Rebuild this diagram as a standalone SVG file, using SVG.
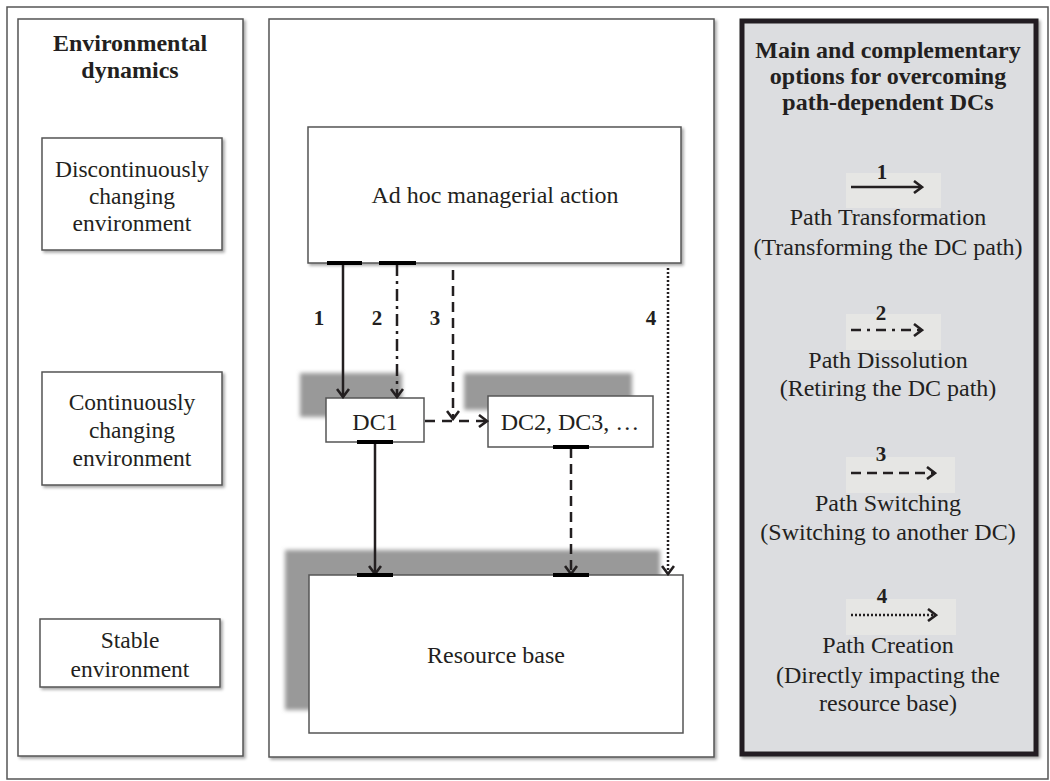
<svg xmlns="http://www.w3.org/2000/svg" width="1050" height="781" viewBox="0 0 1050 781">
<style>
.t{font-family:"Liberation Serif","Times New Roman",serif;font-size:24px;fill:#231f20;text-anchor:middle}
.e{font-family:"Liberation Serif","Times New Roman",serif;font-size:23.5px;fill:#231f20;text-anchor:middle}
.b{font-family:"Liberation Serif","Times New Roman",serif;font-size:24px;font-weight:bold;fill:#231f20;text-anchor:middle}
.n{font-family:"Liberation Serif","Times New Roman",serif;font-size:21px;font-weight:bold;fill:#231f20;text-anchor:middle}
.box{fill:#fff;stroke:#555;stroke-width:1.5}
.panel{fill:#fff;stroke:#555;stroke-width:1.5}
.ln{fill:none;stroke:#231f20;stroke-width:2.5}
.tab{stroke:#000;stroke-width:4}
.shadow{fill:#999}
.lbox{fill:#e6e6e4}
</style>
<defs>
<filter id="ds" x="-5%" y="-5%" width="115%" height="115%"><feDropShadow dx="2" dy="2" stdDeviation="1.5" flood-color="#000" flood-opacity="0.35"/></filter>
<filter id="blur" x="-10%" y="-10%" width="120%" height="120%"><feGaussianBlur stdDeviation="2"/></filter>
<marker id="ah" viewBox="0 0 12 14" refX="10" refY="7" markerWidth="12" markerHeight="14" markerUnits="userSpaceOnUse" orient="auto"><path d="M2,1 L10,7 L2,13" fill="none" stroke="#231f20" stroke-width="2.6"/></marker>
</defs>
<rect x="0" y="0" width="1050" height="781" fill="#fff"/>
<rect x="7" y="7" width="1041" height="772" fill="#fff" stroke="#555" stroke-width="1.5"/>

<g id="left-panel">
<rect class="panel" x="18" y="19" width="225" height="737" filter="url(#ds)"/>
<text class="b" x="130" y="51">Environmental</text>
<text class="b" x="130" y="78">dynamics</text>
</g>
<g id="env-discontinuous">
<rect class="box" x="42" y="138" width="180" height="112" filter="url(#ds)"/>
<text class="e" x="132" y="177">Discontinuously</text>
<text class="e" x="132" y="204">changing</text>
<text class="e" x="132" y="231">environment</text>
</g>
<g id="env-continuous">
<rect class="box" x="42" y="372" width="180" height="113" filter="url(#ds)"/>
<text class="e" x="132" y="410">Continuously</text>
<text class="e" x="132" y="438">changing</text>
<text class="e" x="132" y="466">environment</text>
</g>
<g id="env-stable">
<rect class="box" x="40" y="619" width="180" height="68" filter="url(#ds)"/>
<text class="e" x="130" y="648">Stable</text>
<text class="e" x="130" y="677">environment</text>
</g>

<g id="middle-panel">
<rect class="panel" x="269" y="19" width="445" height="738" filter="url(#ds)"/>
</g>
<g id="shadows">
<rect class="shadow" x="300" y="373" width="102" height="44" filter="url(#blur)"/>
<rect class="shadow" x="464" y="373" width="168" height="37" filter="url(#blur)"/>
<rect class="shadow" x="285" y="550" width="375" height="160" filter="url(#blur)"/>
</g>
<g id="adhoc">
<rect class="box" x="308" y="127" width="373" height="136" filter="url(#ds)"/>
<text class="t" x="495" y="203">Ad hoc managerial action</text>
</g>
<g id="dc1">
<rect class="box" x="326" y="398" width="98" height="44"/>
<text class="t" x="375" y="430">DC1</text>
</g>
<g id="dc2">
<rect class="box" x="488" y="396" width="165" height="51"/>
<text class="t" x="570" y="430">DC2, DC3, …</text>
</g>
<g id="resource">
<rect class="box" x="309" y="575" width="374" height="158"/>
<text class="t" x="496" y="663">Resource base</text>
</g>

<g id="connectors">
<line class="ln" x1="343" y1="264" x2="343" y2="397" marker-end="url(#ah)"/>
<line class="ln" x1="397" y1="264" x2="397" y2="397" stroke-dasharray="12 5 3 5" marker-end="url(#ah)"/>
<line class="ln" x1="453" y1="270" x2="453" y2="419" stroke-dasharray="10 6" marker-end="url(#ah)"/>
<line class="ln" x1="425" y1="421" x2="487" y2="421" stroke-dasharray="10 7" marker-end="url(#ah)"/>
<line class="ln" x1="668" y1="268" x2="668" y2="574" stroke-dasharray="2 2" marker-end="url(#ah)"/>
<line class="ln" x1="375" y1="443" x2="375" y2="574" marker-end="url(#ah)"/>
<line class="ln" x1="571" y1="448" x2="571" y2="574" stroke-dasharray="10 6" marker-end="url(#ah)"/>
<line class="tab" x1="327" y1="263" x2="362" y2="263"/>
<line class="tab" x1="379" y1="263" x2="416" y2="263"/>
<line class="tab" x1="357" y1="442" x2="393" y2="442"/>
<line class="tab" x1="553" y1="447" x2="589" y2="447"/>
<line class="tab" x1="357" y1="575" x2="393" y2="575"/>
<line class="tab" x1="553" y1="575" x2="589" y2="575"/>
<text class="n" x="319" y="325">1</text>
<text class="n" x="377" y="325">2</text>
<text class="n" x="435" y="325">3</text>
<text class="n" x="651" y="325">4</text>
</g>

<g id="legend-panel">
<rect x="742" y="21" width="294" height="733" fill="#dcdde0" stroke="#231f20" stroke-width="5" filter="url(#ds)"/>
<text class="b" x="888" y="58">Main and complementary</text>
<text class="b" x="888" y="84">options for overcoming</text>
<text class="b" x="888" y="110">path-dependent DCs</text>
</g>
<g id="legend-1">
<rect class="lbox" x="846" y="173" width="95" height="35"/>
<text class="n" x="882" y="179">1</text>
<line class="ln" x1="851" y1="187" x2="922" y2="187" marker-end="url(#ah)"/>
<text class="t" x="888" y="225">Path Transformation</text>
<text class="t" x="888" y="255">(Transforming the DC path)</text>
</g>
<g id="legend-2">
<rect class="lbox" x="846" y="314" width="95" height="36"/>
<text class="n" x="881" y="320">2</text>
<line class="ln" x1="851" y1="330" x2="922" y2="330" stroke-dasharray="10 6 3 6" marker-end="url(#ah)"/>
<text class="t" x="888" y="368">Path Dissolution</text>
<text class="t" x="888" y="396">(Retiring the DC path)</text>
</g>
<g id="legend-3">
<rect class="lbox" x="846" y="457" width="109" height="36"/>
<text class="n" x="881" y="461">3</text>
<line class="ln" x1="851" y1="473" x2="935" y2="473" stroke-dasharray="10 6" marker-end="url(#ah)"/>
<text class="t" x="888" y="511">Path Switching</text>
<text class="t" x="888" y="540">(Switching to another DC)</text>
</g>
<g id="legend-4">
<rect class="lbox" x="846" y="599" width="110" height="36"/>
<text class="n" x="882" y="603">4</text>
<line class="ln" x1="851" y1="615" x2="936" y2="615" stroke-dasharray="2 2" marker-end="url(#ah)"/>
<text class="t" x="888" y="653">Path Creation</text>
<text class="t" x="888" y="683">(Directly impacting the</text>
<text class="t" x="888" y="711">resource base)</text>
</g>
</svg>
